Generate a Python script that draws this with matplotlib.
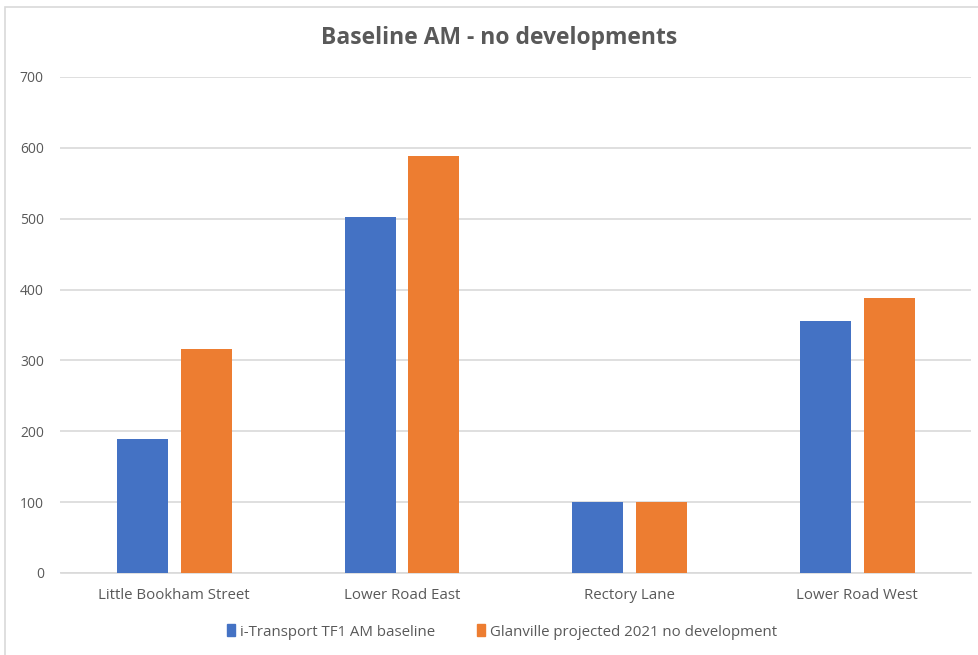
import matplotlib
matplotlib.use("Agg")
import matplotlib.pyplot as plt
import numpy as np
from matplotlib.patches import Rectangle

categories = ["Little Bookham Street", "Lower Road East", "Rectory Lane", "Lower Road West"]
itransport = [189, 502, 100, 356]
glanville = [316, 588, 100, 388]
series_names = ["i-Transport TF1 AM baseline", "Glanville projected 2021 no development"]
yticks = [0, 100, 200, 300, 400, 500, 600, 700]

BLUE = "#4472C4"
ORANGE = "#ED7D31"
TEXT = "#595959"
GRID = "#D9D9D9"

plt.rcParams["font.family"] = ["Open Sans", "DejaVu Sans"]

fig = plt.figure(figsize=(9.79, 6.55), dpi=100)
W, H = 979, 655

# chart frame
fig.patches.append(Rectangle((5 / W, -0.01), 1.1, (655 - 7) / H + 0.01, transform=fig.transFigure,
                             fill=False, edgecolor="#D9D9D9", linewidth=1.2))

ax = fig.add_axes([60.5 / W, 1 - 573 / H, (971 - 60.5) / W, (573 - 77) / H])
x = np.arange(len(categories))
w = 0.224
off = 0.14
ax.bar(x - off, itransport, width=w, color=BLUE, zorder=3)
ax.bar(x + off, glanville, width=w, color=ORANGE, zorder=3)

ax.set_xlim(-0.5, len(categories) - 0.5)
ax.set_ylim(0, 700)
ax.set_yticks(yticks)
ax.set_yticklabels([str(t) for t in yticks])
ax.set_xticks(x)
ax.set_xticklabels(categories)
ax.yaxis.grid(True, color=GRID, linewidth=1.2, zorder=0)
ax.set_axisbelow(True)
for s in ["top", "right", "left"]:
    ax.spines[s].set_visible(False)
ax.spines["bottom"].set_color(GRID)
ax.spines["bottom"].set_linewidth(1.2)
ax.tick_params(axis="y", length=0, colors=TEXT, labelsize=10, pad=12)
ax.tick_params(axis="x", length=0, colors=TEXT, labelsize=10.8, pad=11)

fig.text(499 / W, 1 - 38 / H, "Baseline AM - no developments", ha="center", va="center",
         fontsize=16.5, fontweight="bold", color=TEXT)

# legend
handles = [Rectangle((0, 0), 1, 1, color=BLUE), Rectangle((0, 0), 1, 1, color=ORANGE)]
fig.legend(handles, series_names, loc="center", bbox_to_anchor=(502 / W, 1 - 632 / H),
           ncol=2, frameon=False, fontsize=10.8, labelcolor=TEXT,
           handlelength=0.55, handleheight=0.85, handletextpad=0.3, columnspacing=2.8)

fig.savefig("out.png", dpi=100)
